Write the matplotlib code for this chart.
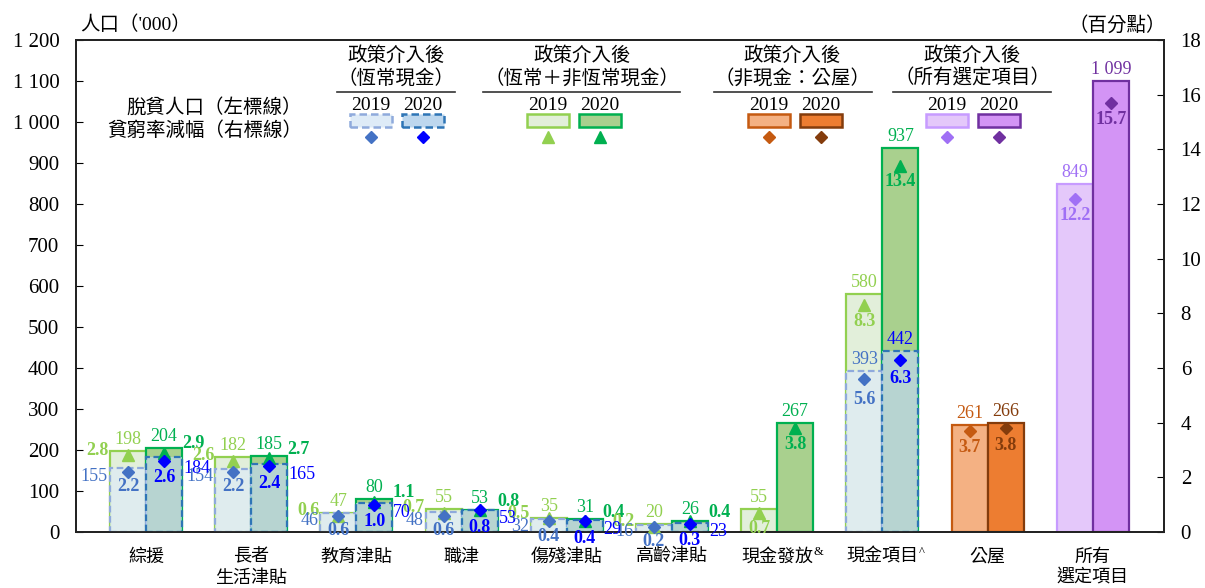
import numpy as np
import matplotlib.pyplot as plt
from matplotlib.patches import Rectangle
from matplotlib.lines import Line2D
from matplotlib.colors import to_rgba
from matplotlib.ticker import FuncFormatter, MultipleLocator

plt.rcParams['font.family'] = ['Liberation Serif', 'Noto Sans CJK TC', 'DejaVu Sans']

# categories
categories = ['綜援', '長者\n生活津貼', '教育津貼', '職津', '傷殘津貼', '高齡津貼',
              '現金發放', '現金項目', '公屋', '所有\n選定項目']
superscripts = {6: '&', 7: '^'}

# recurrent cash (blue)
rec_idx = [0, 1, 2, 3, 4, 5, 7]
rec_pop_2019 = [155, 154, 46, 48, 32, 16, 393]
rec_pop_2020 = [184, 165, 70, 53, 29, 23, 442]
rec_rate_2019 = [2.2, 2.2, 0.6, 0.6, 0.4, 0.2, 5.6]
rec_rate_2020 = [2.6, 2.4, 1.0, 0.8, 0.4, 0.3, 6.3]

# recurrent + non-recurrent cash (green)
cash_idx = [0, 1, 2, 3, 4, 5, 6, 7]
cash_pop_2019 = [198, 182, 47, 55, 35, 20, 55, 580]
cash_pop_2020 = [204, 185, 80, 53, 31, 26, 267, 937]
cash_rate_2019 = [2.8, 2.6, 0.6, 0.7, 0.5, 0.2, 0.7, 8.3]
cash_rate_2020 = [2.9, 2.7, 1.1, 0.8, 0.4, 0.4, 3.8, 13.4]

# non-cash: public rental housing (orange)
ph_idx = [8]
ph_pop_2019 = [261]
ph_pop_2020 = [266]
ph_rate_2019 = [3.7]
ph_rate_2020 = [3.8]

# all selected items (purple)
all_idx = [9]
all_pop_2019 = [849]
all_pop_2020 = [1099]
all_rate_2019 = [12.2]
all_rate_2020 = [15.7]

W, H = 1205, 588


def fx(px):
    return px / W


def fy(py):
    return 1 - py / H


def fmt_int(v):
    return f'{int(v):,}'.replace(',', ' ')


fig = plt.figure(figsize=(W / 100, H / 100), dpi=100)
ax = fig.add_axes([fx(76), fy(532), fx(1164) - fx(76), fy(40) - fy(532)])
ax2 = ax.twinx()

w = 0.342
x = np.arange(len(categories))
dash = (0, (3, 1.6))
NUM = 13

# styles: (fill, edge, marker color, label color)
st = {
    'rec19': ('#DEEBF7', '#8FAADC', '#4472C4', '#4472C4'),
    'rec20': ('#BDD7EE', '#2E75B6', '#0000FF', '#0000FF'),
    'cash19': ('#E2EFDA', '#92D050', '#92D050', '#92D050'),
    'cash20': ('#A9D08E', '#00B050', '#00B050', '#00B050'),
    'ph19': ('#F4B183', '#C55A11', '#C55A11', '#C55A11'),
    'ph20': ('#ED7D31', '#843C0C', '#843C0C', '#843C0C'),
    'all19': ('#E4C8FA', '#C79BFF', '#A070F5', '#A070F5'),
    'all20': ('#D394F5', '#7030A0', '#7030A0', '#7030A0'),
}


def bars(idx, pops, key, side, dashed=False, alpha=1.0, z=2):
    fill, edge, _, _ = st[key]
    xs = x[idx] + side * w / 2
    ax.bar(xs, pops, w, facecolor=to_rgba(fill, alpha), edgecolor=edge,
           linewidth=1.6, linestyle=dash if dashed else '-', zorder=z)


def marks(idx, rates, key, side, marker):
    _, _, mc, _ = st[key]
    xs = x[idx] + side * w / 2
    ms = 9 if marker == '^' else 6
    ax2.plot(xs, rates, marker, color=mc, ms=ms, ls='none', zorder=5, clip_on=False)


def lab(axis, xv, yv, s, color, dx=0, dy=0, ha='center', va='center', bold=False, size=NUM):
    axis.annotate(s, (xv, yv), xytext=(dx, dy), textcoords='offset pixels',
                  ha=ha, va=va, color=color, fontsize=size,
                  fontweight='bold' if bold else 'normal', zorder=6,
                  annotation_clip=False)


# bars
bars(cash_idx, cash_pop_2019, 'cash19', -1)
bars(cash_idx, cash_pop_2020, 'cash20', 1)
bars(rec_idx, rec_pop_2019, 'rec19', -1, dashed=True, alpha=0.7, z=3)
bars(rec_idx, rec_pop_2020, 'rec20', 1, dashed=True, alpha=0.7, z=3)
bars(ph_idx, ph_pop_2019, 'ph19', -1)
bars(ph_idx, ph_pop_2020, 'ph20', 1)
bars(all_idx, all_pop_2019, 'all19', -1)
bars(all_idx, all_pop_2020, 'all20', 1)

# markers
marks(cash_idx, cash_rate_2019, 'cash19', -1, '^')
marks(cash_idx, cash_rate_2020, 'cash20', 1, '^')
marks(rec_idx, rec_rate_2019, 'rec19', -1, 'D')
marks(rec_idx, rec_rate_2020, 'rec20', 1, 'D')
marks(ph_idx, ph_rate_2019, 'ph19', -1, 'D')
marks(ph_idx, ph_rate_2020, 'ph20', 1, 'D')
marks(all_idx, all_rate_2019, 'all19', -1, 'D')
marks(all_idx, all_rate_2020, 'all20', 1, 'D')

# green labels
for i, p19, p20, r19, r20 in zip(cash_idx, cash_pop_2019, cash_pop_2020, cash_rate_2019, cash_rate_2020):
    c19, c20 = st['cash19'][3], st['cash20'][3]
    lab(ax, i - w / 2, p19, fmt_int(p19), c19, dy=3, va='bottom')
    lab(ax, i + w / 2, p20, fmt_int(p20), c20, dy=3, va='bottom')
    if i <= 5:
        lab(ax2, i - w, r19, f'{r19:.1f}', c19, dx=-1, dy=5, ha='right', bold=True)
        lab(ax2, i + w, r20, f'{r20:.1f}', c20, dx=0, dy=9, ha='left', bold=True)
    else:
        lab(ax2, i - w / 2, r19, f'{r19:.1f}', c19, dy=-16, bold=True)
        lab(ax2, i + w / 2, r20, f'{r20:.1f}', c20, dy=-16, bold=True)

# blue labels
for i, p19, p20, r19, r20 in zip(rec_idx, rec_pop_2019, rec_pop_2020, rec_rate_2019, rec_rate_2020):
    c19, c20 = st['rec19'][3], st['rec20'][3]
    if i <= 5:
        lab(ax2, i - w, r19, fmt_int(p19), c19, dx=-2, dy=-5, ha='right')
        lab(ax2, i + w, r20, fmt_int(p20), c20, dx=1, dy=-8, ha='left')
        lab(ax2, i - w / 2, r19, f'{r19:.1f}', c19, dy=-15, bold=True)
        lab(ax2, i + w / 2, r20, f'{r20:.1f}', c20, dy=-17, bold=True)
    else:
        lab(ax, i - w / 2, p19, fmt_int(p19), c19, dy=3, va='bottom')
        lab(ax, i + w / 2, p20, fmt_int(p20), c20, dy=3, va='bottom')
        lab(ax2, i - w / 2, r19, f'{r19:.1f}', c19, dy=-21, bold=True)
        lab(ax2, i + w / 2, r20, f'{r20:.1f}', c20, dy=-19, bold=True)

# orange and purple labels
for idx, pops19, pops20, rates19, rates20, k19, k20 in [
        (ph_idx, ph_pop_2019, ph_pop_2020, ph_rate_2019, ph_rate_2020, 'ph19', 'ph20'),
        (all_idx, all_pop_2019, all_pop_2020, all_rate_2019, all_rate_2020, 'all19', 'all20')]:
    for i, p19, p20, r19, r20 in zip(idx, pops19, pops20, rates19, rates20):
        lab(ax, i - w / 2, p19, fmt_int(p19), st[k19][3], dy=3, va='bottom')
        lab(ax, i + w / 2, p20, fmt_int(p20), st[k20][3], dy=3, va='bottom')
        lab(ax2, i - w / 2, r19, f'{r19:.1f}', st[k19][3], dy=-17, bold=True)
        lab(ax2, i + w / 2, r20, f'{r20:.1f}', st[k20][3], dy=-17, bold=True)

# axes
ax.set_xlim(-0.665, 9.677)
ax.set_ylim(0, 1200)
ax2.set_ylim(0, 18)
ax.yaxis.set_major_locator(MultipleLocator(100))
ax2.yaxis.set_major_locator(MultipleLocator(2))
ax.yaxis.set_major_formatter(FuncFormatter(lambda v, p: fmt_int(v)))
ax.set_xticks(x)
ax.set_xticklabels(categories, fontsize=13, linespacing=1.3)
ax.tick_params(axis='x', length=0, pad=12)
ax.tick_params(axis='y', direction='in', length=5, labelsize=15, pad=12)
ax2.tick_params(axis='y', direction='in', length=5, labelsize=15, pad=12)
for a in (ax, ax2):
    for s in a.spines.values():
        s.set_linewidth(1.3)
        s.set_color('#222222')

for i, s in superscripts.items():
    ax.annotate(s, (i, 0), xycoords=ax.get_xaxis_transform(), xytext=(36, -20),
                textcoords='offset pixels', ha='left', va='center', fontsize=9,
                annotation_clip=False)

# axis titles
fig.text(fx(80), fy(25), "人口（'000）", fontsize=14, ha='left', va='center')
fig.text(fx(1166), fy(25), '（百分點）', fontsize=14, ha='right', va='center')

# legend
fig.text(fx(302), fy(107), '脫貧人口（左標線）', fontsize=14, ha='right', va='center')
fig.text(fx(302), fy(131), '貧窮率減幅（右標線）', fontsize=14, ha='right', va='center')

groups = [
    ('（恆常現金）', 396, (337, 455), (371, 423), ('rec19', 'rec20'), 'D', True),
    ('（恆常＋非恆常現金）', 582, (483, 680), (548, 600), ('cash19', 'cash20'), '^', False),
    ('（非現金：公屋）', 792, (714, 872), (769, 821), ('ph19', 'ph20'), 'D', False),
    ('（所有選定項目）', 972, (893, 1051), (947, 999), ('all19', 'all20'), 'D', False),
]
for sub, cx, (l0, l1), centers, keys, mk, dashed in groups:
    fig.text(fx(cx), fy(56), '政策介入後', fontsize=14, ha='center', va='center')
    fig.text(fx(cx), fy(78), sub, fontsize=14, ha='center', va='center')
    fig.add_artist(Line2D([fx(l0), fx(l1)], [fy(91.5), fy(91.5)], color='#333333', lw=1.2))
    for c, k, yr in zip(centers, keys, ['2019', '2020']):
        fill, edge, mc, _ = st[k]
        fig.text(fx(c), fy(105), yr, fontsize=14, ha='center', va='center')
        fig.add_artist(Rectangle((fx(c - 21), fy(127)), fx(42), fy(114) - fy(127),
                                 facecolor=fill, edgecolor=edge, lw=1.8,
                                 linestyle=dash if dashed else '-', transform=fig.transFigure))
        fig.add_artist(Line2D([fx(c)], [fy(137)], marker=mk, color=mc,
                              ms=9 if mk == '^' else 6, transform=fig.transFigure))

fig.savefig('out.png', dpi=100)
